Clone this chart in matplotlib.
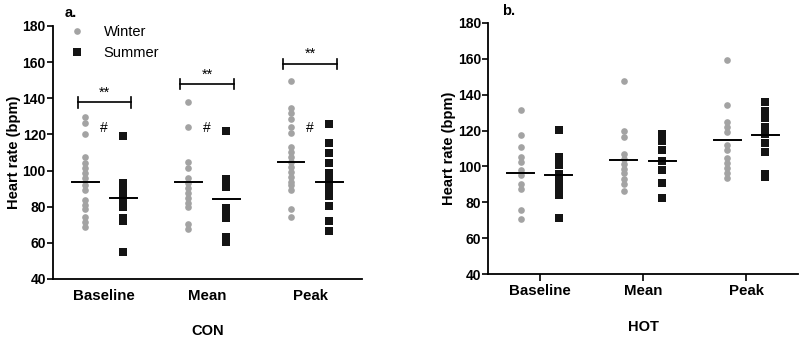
import matplotlib.pyplot as plt
from matplotlib.lines import Line2D

plt.rcParams['font.family'] = ['Liberation Sans', 'DejaVu Sans']

categories = ['Baseline', 'Mean', 'Peak']

# CON panel (a)
con_winter = [
    [129.8, 126.5, 120.1, 107.7, 104, 101.3, 98.5, 95.7, 92, 89.3, 83.7, 81, 78.5, 74.5, 71.7, 68.9],
    [137.8, 124, 104.9, 101.3, 95.7, 93, 90.2, 87.5, 84.7, 82, 80.1, 70.2, 67.5],
    [149.7, 134.5, 131.7, 128.4, 124.3, 120.6, 113.2, 110.4, 107.7, 105, 102.1, 99.4, 96.6,
     93.8, 92, 89.3, 78.6, 74.5],
]
con_summer = [
    [119.1, 93, 90, 87, 85, 83, 80, 74, 72, 55.1],
    [121.9, 95.2, 91, 79.3, 76, 73.8, 63.4, 60.6],
    [125.5, 115.4, 109.5, 104.3, 98.5, 94, 90, 86, 80.2, 71.9, 66.4],
]
con_winter_mean = [93.8, 93.5, 104.9]
con_summer_mean = [84.6, 84.3, 93.8]
con_bracket_y = [137.8, 147.9, 159]
con_hash_y = [123.6, 123.6, 123.6]

# HOT panel (b)
hot_winter = [
    [131.4, 117.4, 110.6, 105.3, 102.6, 97.9, 95.2, 90.5, 87.7, 75.7, 71],
    [147.5, 119.7, 116.5, 107.2, 104.4, 101.6, 98.8, 96.1, 93.3, 90.5, 86.5],
    [159.2, 134.5, 124.8, 122.1, 119.3, 111.9, 109.1, 104.5, 101.7, 98.9, 96.1, 93.7],
]
hot_summer = [
    [120.2, 105.5, 101, 96, 92, 88, 84, 71.4],
    [118, 114, 109, 103, 98, 90.9, 82.5],
    [136, 131, 127, 122, 118, 113, 108, 96, 94],
]
hot_winter_mean = [96.4, 103.5, 115]
hot_summer_mean = [95.5, 103.1, 117.4]

GREY = '#a3a3a3'
BLACK = '#141414'
OFF = 0.185
HALF = 0.13

fig = plt.figure(figsize=(8, 3.38), dpi=100)
ax_a = fig.add_axes([0.066, 0.1746, 0.386, 0.7485])
ax_b = fig.add_axes([0.61, 0.189, 0.3875, 0.743])


def draw_panel(ax, winter, summer, wmean, smean, xlabel, labelpad):
    for i in range(len(categories)):
        xc = i + 0.5
        ax.plot([xc - OFF] * len(winter[i]), winter[i], 'o', color=GREY,
                markersize=4.8, markeredgewidth=0, zorder=2)
        ax.plot([xc + OFF] * len(summer[i]), summer[i], 's', color=BLACK,
                markersize=5.2, markeredgewidth=0, zorder=2)
        ax.plot([xc - OFF - HALF, xc - OFF + HALF], [wmean[i], wmean[i]],
                color='black', lw=1.4, zorder=3)
        ax.plot([xc + OFF - HALF, xc + OFF + HALF], [smean[i], smean[i]],
                color='black', lw=1.4, zorder=3)
    ax.set_xlim(0, 3)
    ax.set_ylim(40, 180)
    ax.set_yticks(range(40, 181, 20))
    ax.set_xticks([0.5, 1.5, 2.5])
    ax.set_xticklabels(categories, fontweight='bold', fontsize=10.8)
    for lab in ax.get_yticklabels():
        lab.set_fontweight('bold')
        lab.set_fontsize(10)
    ax.spines['top'].set_visible(False)
    ax.spines['right'].set_visible(False)
    ax.spines['left'].set_linewidth(1.3)
    ax.spines['bottom'].set_linewidth(1.3)
    ax.tick_params(axis='y', length=4, width=1.2, pad=1)
    ax.set_ylabel('Heart rate (bpm)', fontweight='bold', fontsize=10.5, labelpad=1)
    ax.set_xlabel(xlabel, fontweight='bold', fontsize=10.5, labelpad=labelpad)


draw_panel(ax_a, con_winter, con_summer, con_winter_mean, con_summer_mean, 'CON', 15)
draw_panel(ax_b, hot_winter, hot_summer, hot_winter_mean, hot_summer_mean, 'HOT', 16)

ax_a.tick_params(axis='x', length=0, pad=7)
ax_b.tick_params(axis='x', length=5, width=1.2, pad=2)

# significance markers, panel a
for i, yb in enumerate(con_bracket_y):
    xc = i + 0.5
    x0, x1 = xc - 0.26, xc + 0.26
    ax_a.plot([x0, x1], [yb, yb], color='black', lw=1.2)
    ax_a.plot([x0, x0], [yb - 3, yb + 3], color='black', lw=1.2)
    ax_a.plot([x1, x1], [yb - 3, yb + 3], color='black', lw=1.2)
    ax_a.text(xc, yb + 1.5, '**', ha='center', va='bottom', fontsize=10.5)
    ax_a.text(xc, con_hash_y[i], '#', ha='center', va='center', fontsize=10)

handles = [
    Line2D([], [], marker='o', color=GREY, ls='none', markersize=4.8, markeredgewidth=0),
    Line2D([], [], marker='s', color=BLACK, ls='none', markersize=5.2, markeredgewidth=0),
]
ax_a.legend(handles, ['Winter', 'Summer'], loc='upper left', bbox_to_anchor=(0.0, 1.055),
            frameon=False, fontsize=10.5, handletextpad=1.1, labelspacing=0.45,
            handlelength=1.5)

fig.text(65 / 800, 1 - 13 / 338, 'a.', fontweight='bold', fontsize=10.5, va='center')
fig.text(502 / 800, 1 - 11 / 338, 'b.', fontweight='bold', fontsize=10.5, va='center')

fig.savefig('out.png', dpi=100)
